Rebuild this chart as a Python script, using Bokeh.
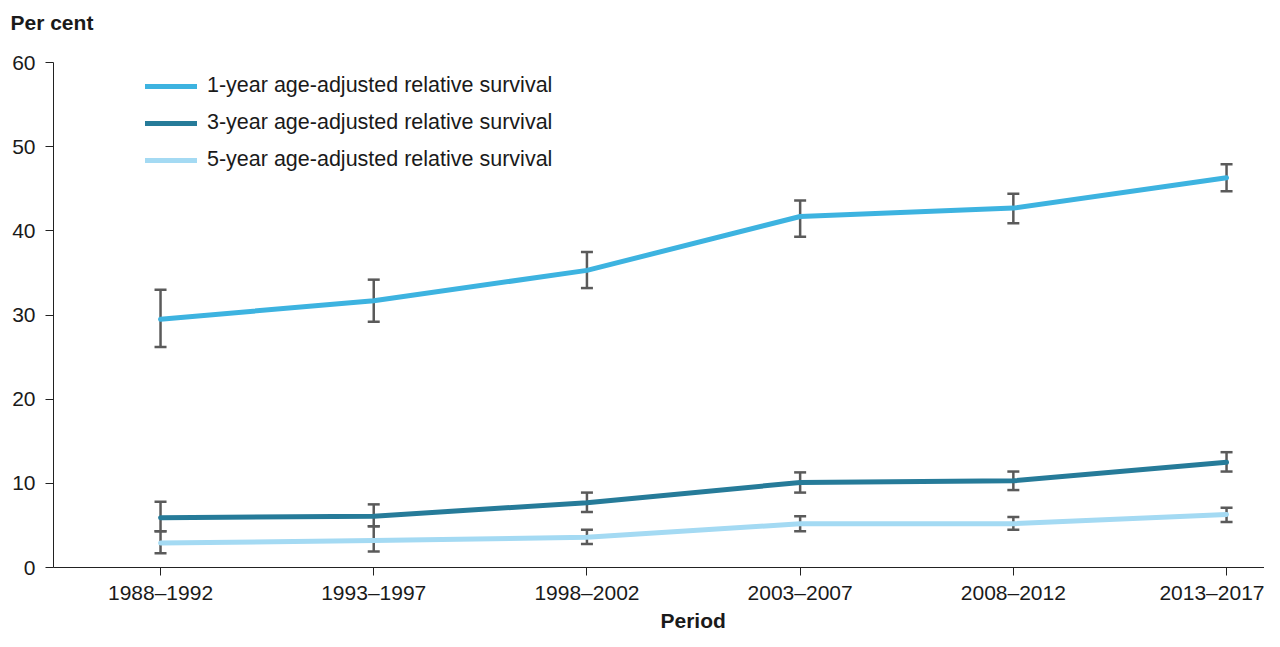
from bokeh.plotting import figure
from bokeh.models import (ColumnDataSource, Whisker, TeeHead, FixedTicker, Legend,
                          LegendItem, Title, Range1d)
from bokeh.embed import file_html
from bokeh.resources import INLINE

periods = ["1988–1992", "1993–1997", "1998–2002", "2003–2007", "2008–2012", "2013–2017"]
one_year = [29.5, 31.7, 35.3, 41.7, 42.7, 46.3]
one_lo = [26.2, 29.2, 33.2, 39.3, 40.9, 44.7]
one_hi = [33.0, 34.2, 37.5, 43.6, 44.4, 47.9]
three_year = [5.9, 6.1, 7.7, 10.1, 10.3, 12.5]
three_lo = [4.3, 4.9, 6.6, 8.9, 9.2, 11.4]
three_hi = [7.8, 7.5, 8.9, 11.3, 11.4, 13.7]
five_year = [2.9, 3.2, 3.6, 5.2, 5.2, 6.3]
five_lo = [1.7, 1.9, 2.8, 4.3, 4.5, 5.4]
five_hi = [4.3, 4.9, 4.5, 6.1, 6.0, 7.1]
y_ticks = [0, 10, 20, 30, 40, 50, 60]
series_names = ["1-year age-adjusted relative survival",
                "3-year age-adjusted relative survival",
                "5-year age-adjusted relative survival"]
colors = ["#3db3e0", "#267b99", "#a4daf3"]

x = list(range(len(periods)))
FONT = "Liberation Sans"
TXT = "#1a1a1a"

p = figure(width=1264, height=631, output_backend="svg", toolbar_location=None,
           x_range=Range1d(-0.502, 5.178), y_range=Range1d(0, 60),
           min_border_left=53, min_border_right=0, min_border_top=62, min_border_bottom=61)
p.outline_line_color = None
p.xgrid.grid_line_color = None
p.ygrid.grid_line_color = None

p.title.text = "Per cent"
p.title.align = "left"
p.title.vertical_align = "top"
p.title.offset = -43
p.title.standoff = 20
p.title.text_font = FONT
p.title.text_font_size = "21px"
p.title.text_font_style = "bold"
p.title.text_color = TXT

# spacer between the "Per cent" heading and the plot area
p.add_layout(Title(text=" ", text_font_size="10px", standoff=4), "above")

renderers = []
for vals, col in [(one_year, colors[0]), (three_year, colors[1]), (five_year, colors[2])]:
    src = ColumnDataSource(dict(x=x, y=vals))
    r = p.line("x", "y", source=src, line_color=col, line_width=5, line_join="round", line_cap="round")
    renderers.append(r)

for lo, hi in [(one_lo, one_hi), (three_lo, three_hi), (five_lo, five_hi)]:
    src = ColumnDataSource(dict(x=x, lo=lo, hi=hi))
    w = Whisker(base="x", lower="lo", upper="hi", source=src, line_color="#5a5a5a", line_width=2.5,
                upper_head=TeeHead(size=12, line_color="#5a5a5a", line_width=2.5),
                lower_head=TeeHead(size=12, line_color="#5a5a5a", line_width=2.5))
    p.add_layout(w)

legend = Legend(items=[LegendItem(label=n, renderers=[r]) for n, r in zip(series_names, renderers)],
                location=(92, 395), padding=0, margin=0, spacing=12,
                glyph_width=52, glyph_height=20, label_height=20, label_standoff=10,
                label_text_font=FONT, label_text_font_size="21.5px", label_text_color=TXT,
                border_line_color=None, background_fill_alpha=0)
p.add_layout(legend, "center")

for ax in (p.xaxis[0], p.yaxis[0]):
    ax.axis_line_color = "#222222"
    ax.axis_line_width = 1
    ax.major_tick_line_color = "#222222"
    ax.major_tick_in = 0
    ax.major_tick_out = 8
    ax.minor_tick_line_color = None
    ax.major_label_text_font = FONT
    ax.major_label_text_font_size = "21px"
    ax.major_label_text_color = TXT

p.xaxis.ticker = FixedTicker(ticks=x)
p.xaxis.major_label_overrides = {i: s for i, s in enumerate(periods)}
p.xaxis.major_label_standoff = 5
p.yaxis.ticker = FixedTicker(ticks=y_ticks)
p.yaxis.major_label_standoff = 10

p.add_layout(Title(text="Period", align="left", offset=607, standoff=0, text_font=FONT,
                   text_font_size="21px", text_font_style="bold", text_color=TXT), "below")

open("out.html", "w").write(file_html(p, INLINE))
